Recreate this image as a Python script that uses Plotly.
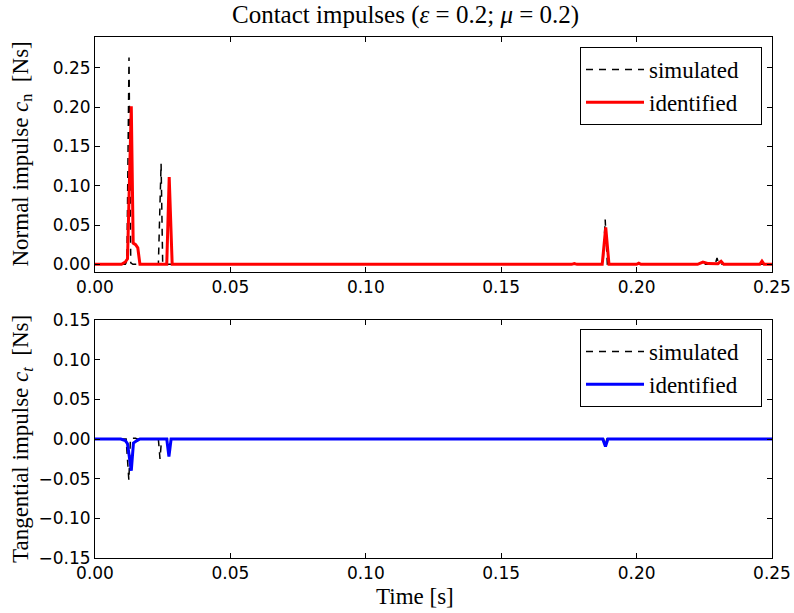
import plotly.graph_objects as go

# ---------------- data ----------------
# Normal impulse, simulated (black dashed)
t_n_sim = [0.0, 0.0112, 0.0118, 0.01256, 0.0132, 0.0140, 0.0234, 0.0244, 0.0250,
           0.1876, 0.1884, 0.1892, 0.2290, 0.2297, 0.2304, 0.25]
c_n_sim = [0.0, 0.0, 0.004, 0.263, 0.002, 0.0, 0.0, 0.128, 0.0,
           0.0, 0.057, 0.0, 0.0, 0.008, 0.0, 0.0]

# Normal impulse, identified (red)
t_n_id = [0.0, 0.0098, 0.0112, 0.0120, 0.0134, 0.0141, 0.0150, 0.0158, 0.0166,
          0.0265, 0.0274, 0.0285, 0.1760, 0.1770, 0.1780, 0.1873, 0.1886, 0.1898,
          0.2000, 0.2008, 0.2016, 0.2225, 0.2245, 0.2265, 0.2300, 0.2312, 0.2322,
          0.2455, 0.2463, 0.2471, 0.25]
c_n_id = [0.0, 0.0, 0.003, 0.007, 0.201, 0.027, 0.025, 0.021, 0.0,
          0.0, 0.111, 0.0, 0.0, 0.001, 0.0, 0.0, 0.047, 0.0,
          0.0, 0.0015, 0.0, 0.0, 0.003, 0.001, 0.0008, 0.004, 0.0,
          0.0, 0.004, 0.0, 0.0]

# Tangential impulse, simulated (black dashed)
t_t_sim = [0.0, 0.0115, 0.0125, 0.0131, 0.0150, 0.0155, 0.0234, 0.0240, 0.0246,
           0.1878, 0.1884, 0.1890, 0.25]
c_t_sim = [0.0, 0.0, -0.052, 0.001, 0.001, 0.0, 0.0, -0.025, 0.0,
           0.0, -0.010, 0.0, 0.0]

# Tangential impulse, identified (blue)
t_t_id = [0.0, 0.0095, 0.0112, 0.0120, 0.0134, 0.0142, 0.0155, 0.0166,
          0.0265, 0.0273, 0.0281, 0.1875, 0.1885, 0.1894, 0.25]
c_t_id = [0.0, 0.0, -0.002, -0.006, -0.040, -0.005, -0.002, 0.0,
          0.0, -0.022, 0.0, 0.0, -0.0095, 0.0, 0.0]

x_ticks = [0.00, 0.05, 0.10, 0.15, 0.20, 0.25]
y1_ticks = [0.00, 0.05, 0.10, 0.15, 0.20, 0.25]
y2_ticks = [-0.15, -0.10, -0.05, 0.00, 0.05, 0.10, 0.15]

SERIF = "Liberation Serif"
SANS = "DejaVu Sans"
NB = "\u00a0"

fig = go.Figure()
fig.add_trace(go.Scatter(x=t_n_sim, y=c_n_sim, mode="lines", name="simulated" + NB * 3,
                         line=dict(color="black", width=1.5, dash="7px,6px"),
                         xaxis="x", yaxis="y", legend="legend"))
fig.add_trace(go.Scatter(x=t_n_id, y=c_n_id, mode="lines", name="identified" + NB * 3,
                         line=dict(color="#ff0000", width=3),
                         xaxis="x", yaxis="y", legend="legend"))
fig.add_trace(go.Scatter(x=t_t_sim, y=c_t_sim, mode="lines", name="simulated" + NB * 3,
                         line=dict(color="black", width=1.5, dash="7px,6px"),
                         xaxis="x2", yaxis="y2", legend="legend2"))
fig.add_trace(go.Scatter(x=t_t_id, y=c_t_id, mode="lines", name="identified" + NB * 3,
                         line=dict(color="#0000ff", width=3),
                         xaxis="x2", yaxis="y2", legend="legend2"))

axis_common = dict(showline=True, linecolor="black", linewidth=1, mirror="ticks",
                   ticks="inside", ticklen=5, tickcolor="black", tickwidth=1,
                   showgrid=False, zeroline=False, automargin=False,
                   tickfont=dict(family=SANS, size=17, color="black"))

W, H = 794, 613
ml, mr, mt, mb = 95, 22, 37, 55
pw = W - ml - mr
ph = H - mt - mb

legend_common = dict(xanchor="right", yanchor="top", bordercolor="black", borderwidth=1,
                     bgcolor="white", itemwidth=58, tracegroupgap=0,
                     font=dict(family=SERIF, size=23, color="black"))

fig.update_layout(
    width=W, height=H, autosize=False,
    margin=dict(l=ml, r=mr, t=mt, b=mb, pad=0, autoexpand=False),
    paper_bgcolor="white", plot_bgcolor="white",
    xaxis=dict(domain=[0, 1], range=[0, 0.25], tickvals=x_ticks,
               ticktext=[f"{v:.2f}" for v in x_ticks], anchor="y", **axis_common),
    yaxis=dict(domain=[(558 - 272) / ph, 1], range=[-0.0097, 0.289], tickvals=y1_ticks,
               ticktext=[f"{v:.2f}" for v in y1_ticks], anchor="x", **axis_common),
    xaxis2=dict(domain=[0, 1], range=[0, 0.25], tickvals=x_ticks,
                ticktext=[f"{v:.2f}" for v in x_ticks], anchor="y2", **axis_common),
    yaxis2=dict(domain=[0, (558 - 320) / ph], range=[-0.15, 0.15], tickvals=y2_ticks,
                ticktext=[f"{v:.2f}".replace("-", "\u2212") for v in y2_ticks],
                anchor="x2", **axis_common),
    legend=dict(x=1 - 10 / pw, y=1 - 10 / ph, **legend_common),
    legend2=dict(x=1 - 10 / pw, y=(558 - 329) / ph, **legend_common),
    showlegend=True,
)

annots = [
    dict(text="Contact impulses (<i>ε</i> = 0.2; <i>μ</i> = 0.2)", x=(405 - ml) / pw, y=1,
         xref="paper", yref="paper", xanchor="center", yanchor="bottom", yshift=6,
         showarrow=False, font=dict(family=SERIF, size=25, color="black")),
    dict(text="Time [s]", x=(415 - ml) / pw, y=0, xref="paper", yref="paper",
         xanchor="center", yanchor="top", yshift=-24, showarrow=False,
         font=dict(family=SERIF, size=23, color="black")),
    dict(text="Normal impulse <i>c</i><sub>n</sub>  [Ns]", x=(22 - ml) / pw,
         y=((558 - 272) / ph + 1) / 2, xref="paper", yref="paper",
         xanchor="center", yanchor="middle", textangle=-90, showarrow=False,
         font=dict(family=SERIF, size=23, color="black")),
    dict(text="Tangential impulse <i>c</i><sub><i>t</i></sub>  [Ns]", x=(22 - ml) / pw,
         y=((558 - 320) / ph) / 2, xref="paper", yref="paper",
         xanchor="center", yanchor="middle", textangle=-90, showarrow=False,
         font=dict(family=SERIF, size=23, color="black")),
]
fig.update_layout(annotations=annots)

fig.write_html("out.html")
